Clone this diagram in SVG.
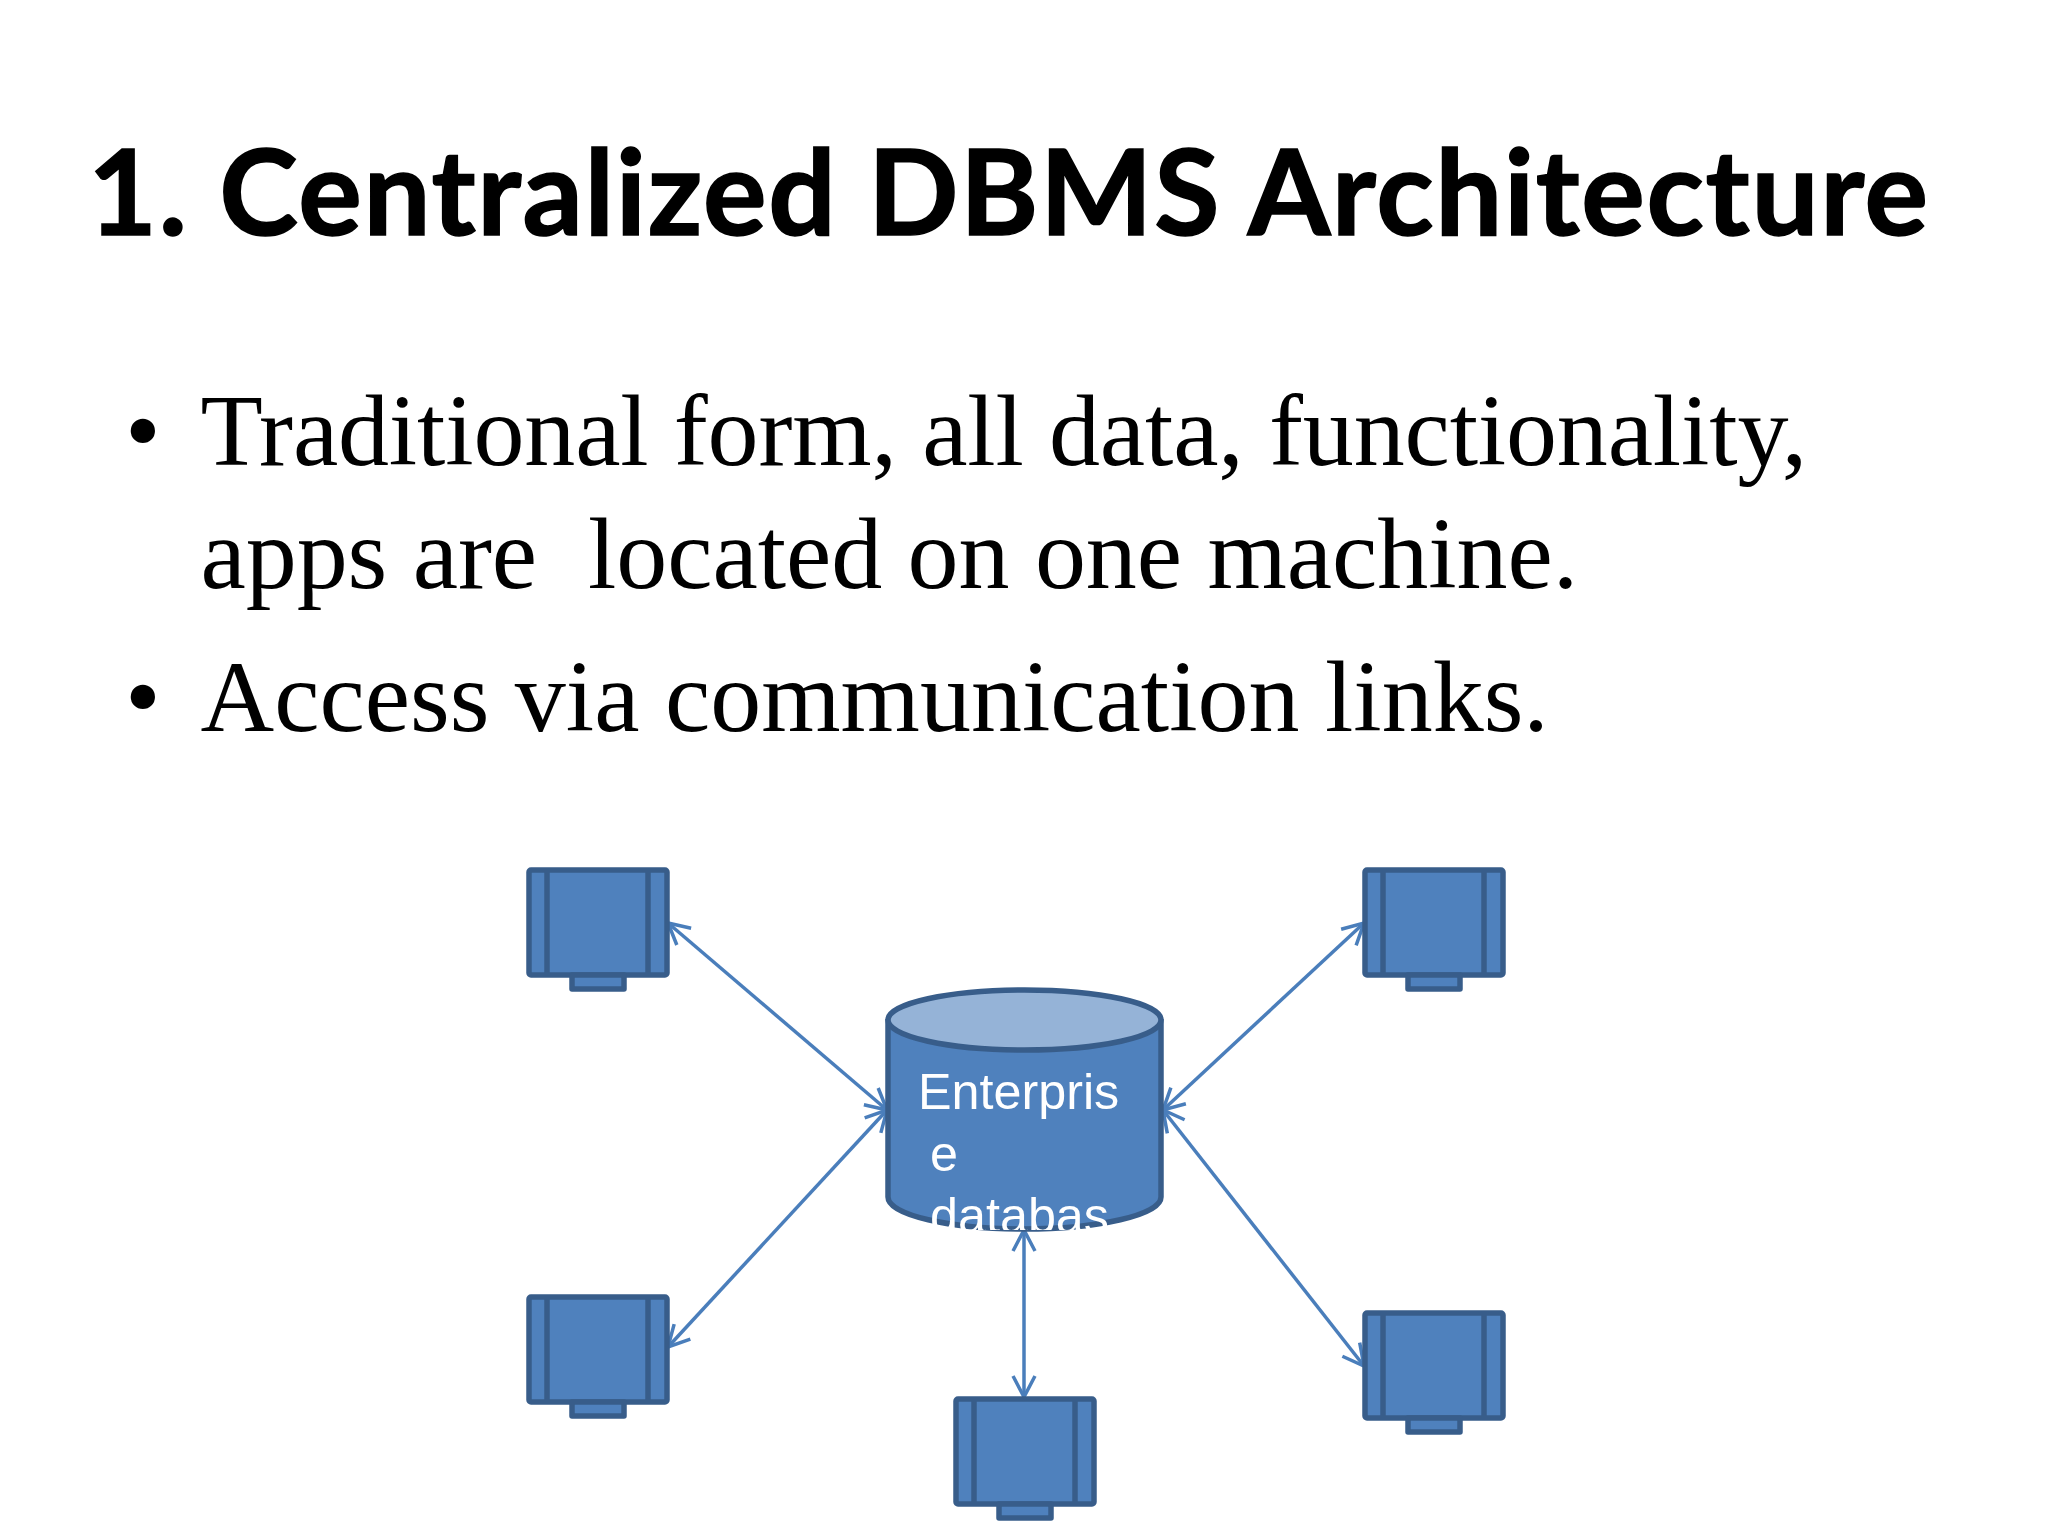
<svg xmlns="http://www.w3.org/2000/svg" width="2048" height="1536" viewBox="0 0 2048 1536">
<style>
.title{font-family:"Lato","Liberation Sans",sans-serif;font-weight:700;font-size:119px;letter-spacing:1.650px;fill:#000;stroke:#000;stroke-width:1.500px}
.body{font-family:"Liberation Serif",serif;font-size:102px;fill:#000}
.shape{fill:#4f81bd;stroke:#385d8a;stroke-width:5.500;stroke-linejoin:round}
.top{fill:#95b3d7;stroke:#385d8a;stroke-width:5.500}
.lbl{font-family:"Liberation Sans",Arial,sans-serif;font-size:50.300px;fill:#fff}
.link{stroke:#4a7ebb;stroke-width:3.500;fill:none;marker-start:url(#a);marker-end:url(#a)}
</style>
<defs>
<marker id="a" viewBox="-24 -16 32 32" markerUnits="userSpaceOnUse" markerWidth="32" markerHeight="32" refX="0" refY="0" orient="auto-start-reverse"><path d="M-21 -11 L0 0 L-21 11" fill="none" stroke="#4a7ebb" stroke-width="3.500"/></marker>
<g id="mon"><rect class="shape" x="0" y="0" width="138" height="105" rx="2"/><rect class="shape" x="43" y="105" width="52" height="14"/><path class="shape" d="M18 0V105M119 0V105" fill="none"/></g>
<clipPath id="c"><rect x="860" y="1060" width="330" height="170"/></clipPath>
</defs>
<rect width="2048" height="1536" fill="#fff"/>
<text class="title" x="88" y="235">1. Centralized DBMS Architecture</text>
<g id="bullets">
<text class="body" x="125" y="465">•</text>
<text class="body" x="200.500" y="465" letter-spacing="-0.150">Traditional form, all data, functionality,</text>
<text class="body" x="200.500" y="588" xml:space="preserve" letter-spacing="-0.050">apps are  located on one machine.</text>
<text class="body" x="125" y="731">•</text>
<text class="body" x="200.500" y="731">Access via communication links.</text>
</g>
<g id="connectors">
<line class="link" x1="668" y1="923" x2="887" y2="1110"/>
<line class="link" x1="668" y1="1347" x2="887" y2="1110"/>
<line class="link" x1="1364" y1="923" x2="1163" y2="1110"/>
<line class="link" x1="1364" y1="1366" x2="1163" y2="1110"/>
<line class="link" x1="1024" y1="1230" x2="1024" y2="1397"/>
</g>
<g id="m1"><use href="#mon" x="529" y="870"/></g>
<g id="m2"><use href="#mon" x="1365" y="870"/></g>
<g id="m3"><use href="#mon" x="529" y="1297"/></g>
<g id="m4"><use href="#mon" x="1365" y="1313"/></g>
<g id="m5"><use href="#mon" x="956" y="1399"/></g>
<g id="db">
<path class="shape" d="M888 1019V1197C888 1215 950 1229 1024 1229S1161 1215 1161 1197V1019"/>
<ellipse class="top" cx="1024.500" cy="1020" rx="136.500" ry="30"/>
<g clip-path="url(#c)">
<text class="lbl" x="918" y="1109">Enterpris</text>
<text class="lbl" x="930" y="1171">e</text>
<text class="lbl" x="930" y="1233">databas</text>
</g>
</g>
</svg>
